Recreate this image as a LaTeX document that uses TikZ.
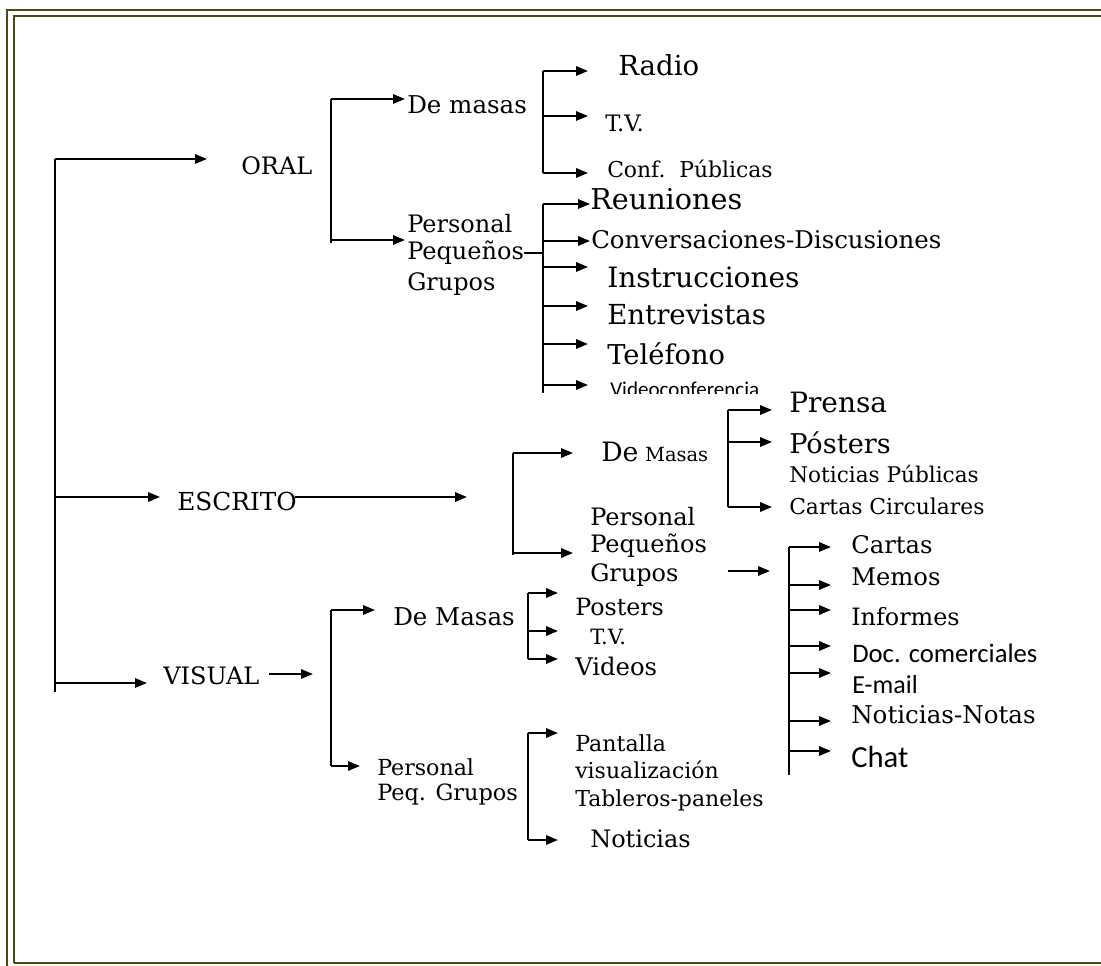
\documentclass[tikz,border=0pt]{standalone}
\usepackage{fontspec}
\setmainfont{DejaVu Serif}
\newfontfamily\calfont{Carlito}
\usetikzlibrary{arrows.meta}
\definecolor{frameolive}{RGB}{72,72,24}
\newcommand\fsz[2]{\fontsize{#1}{#2}\selectfont}
\tikzset{
  ln/.style={line width=1.6pt, black},
  arr/.style={ln, -{Triangle[length=9pt,width=7pt]}},
  txt/.style={anchor=west, inner sep=0pt, align=left},
  frameline/.style={line width=1.6pt, frameolive}
}
\begin{document}
\begin{tikzpicture}[x=0.75pt, y=-0.75pt]
\useasboundingbox (0,0) rectangle (1101,966);
% frame
\draw[frameline] (7,1000) -- (7,10) -- (1120,10);
\draw[frameline] (14,963) -- (14,16) -- (1120,16);
\draw[frameline] (14,963) -- (1120,963);

% ---------- main trunk ----------
\coordinate (trunkTop) at (55,159);
\coordinate (trunkBot) at (55,692);
\draw[ln] (trunkTop) -- (trunkBot);
\coordinate (tOral) at (207,159);
\coordinate (tEscrito) at (160,497);
\coordinate (tVisual) at (147,683);
\draw[arr] (trunkTop) -- (tOral);
\draw[arr] (trunkTop |- tEscrito) -- (tEscrito);
\draw[arr] (trunkTop |- tVisual) -- (tVisual);

\node[txt, font=\fsz{18}{22}] (oral) at (241,166) {ORAL};
\node[txt, font=\fsz{18.6}{22}] (escrito) at (177,501) {ESCRITO};
\node[txt, font=\fsz{18}{22}] (visual) at (163,676) {VISUAL};

% ---------- ORAL ----------
\coordinate (oTop) at (331,99);
\coordinate (oBot) at (331,243);
\draw[ln] (oTop) -- (oBot);
\coordinate (tDeMasasO) at (405,99);
\coordinate (tPersO) at (405,240);
\draw[arr] (oTop) -- (tDeMasasO);
\draw[arr] (oTop |- tPersO) -- (tPersO);
\node[txt, font=\fsz{18.4}{22}] (demasasO) at (407,105) {De masas};
\node[txt, font=\fsz{18}{22}] (persO1) at (407,224) {Personal};
\node[txt, font=\fsz{18}{22}] (persO2) at (407,253) {Pequeños};
\node[txt, font=\fsz{18}{22}] (persO3) at (407,284) {Grupos};

% De masas (oral) branch
\coordinate (dmTop) at (543,71);
\coordinate (dmBot) at (543,173);
\draw[ln] (dmTop) -- (dmBot);
\coordinate (tRadio) at (588,71);
\coordinate (tTVo) at (588,116);
\coordinate (tConf) at (588,173);
\draw[arr] (dmTop) -- (tRadio);
\draw[arr] (dmTop |- tTVo) -- (tTVo);
\draw[arr] (dmTop |- tConf) -- (tConf);
\node[txt, font=\fsz{20.7}{24}] (radio) at (618,65) {Radio};
\node[txt, font=\fsz{17}{20}] (tvO) at (605,123) {T.V.};
\node[txt, font=\fsz{16.4}{20}] (conf) at (607,169) {Conf.\ \ Públicas};

% Personal (oral) branch
\coordinate (poTop) at (543,204);
\coordinate (poBot) at (543,393);
\draw[ln] (poTop) -- (poBot);
\draw[ln] (persO2.east) -- (persO2.east -| poTop);
\coordinate (tReun) at (590,204);
\coordinate (tConv) at (590,241);
\coordinate (tInst) at (588,267);
\coordinate (tEntr) at (588,306);
\coordinate (tTel) at (588,344);
\coordinate (tVideoc) at (588,385);
\draw[arr] (poTop) -- (tReun);
\draw[arr] (poTop |- tConv) -- (tConv);
\draw[arr] (poTop |- tInst) -- (tInst);
\draw[arr] (poTop |- tEntr) -- (tEntr);
\draw[arr] (poTop |- tTel) -- (tTel);
\draw[arr] (poTop |- tVideoc) -- (tVideoc);
\node[txt, font=\fsz{21.5}{25}] (reun) at (590,199) {Reuniones};
\node[txt, font=\fsz{18.3}{22}] (conv) at (591,240) {Conversaciones-Discusiones};
\node[txt, font=\fsz{21}{25}] (inst) at (607,277) {Instrucciones};
\node[txt, font=\fsz{20.7}{25}] (entr) at (607,315) {Entrevistas};
\node[txt, font=\fsz{20.5}{25}] (tel) at (607,354) {Teléfono};
\begin{scope}
\clip (600,370) rectangle (800,394);
\node[txt, font={\calfont\fsz{15.8}{19}}] (videoc) at (610,389) {Videoconferencia};
\end{scope}

% ---------- ESCRITO ----------
\coordinate (tEscLine) at (467,497);
\draw[arr] (295,497) -- (tEscLine);
\coordinate (eTop) at (513,453);
\coordinate (eBot) at (513,555);
\draw[ln] (eTop) -- (eBot);
\coordinate (tDeMasasE) at (573,453);
\coordinate (tPersE) at (573,553);
\draw[arr] (eTop) -- (tDeMasasE);
\draw[arr] (eTop |- tPersE) -- (tPersE);
\node[txt] (demasasE) at (601,452) {{\fsz{20}{24}De}\hspace{5pt}{\fsz{14.6}{18}Masas}};
\node[txt, font=\fsz{18}{22}] (persE1) at (590,517) {Personal};
\node[txt, font=\fsz{18}{22}] (persE2) at (590,546) {Pequeños};
\node[txt, font=\fsz{18}{22}] (persE3) at (590,575) {Grupos};
\coordinate (gArrS) at (728,571);
\coordinate (tGArr) at (770,571);
\draw[arr] (gArrS) -- (tGArr);

% De Masas (escrito) branch
\coordinate (deTop) at (728,410);
\coordinate (deBot) at (728,507);
\draw[ln] (deTop) -- (deBot);
\coordinate (tPrensa) at (772,410);
\coordinate (tPost) at (772,442);
\coordinate (tCirc) at (772,507);
\draw[arr] (deTop) -- (tPrensa);
\draw[arr] (deTop |- tPost) -- (tPost);
\draw[arr] (deTop |- tCirc) -- (tCirc);
\node[txt, font=\fsz{21}{25}] (prensa) at (789,402) {Prensa};
\node[txt, font=\fsz{20.4}{24}] (posters) at (789,443) {Pósters};
\node[txt, font=\fsz{16.2}{20}] (notpub) at (789,474) {Noticias Públicas};
\node[txt, font=\fsz{16.4}{20}] (circ) at (789,506) {Cartas Circulares};

% Personal (escrito) branch
\coordinate (peTop) at (789,547);
\coordinate (peBot) at (789,775);
\draw[ln] (peTop) -- (peBot);
\coordinate (tCartas) at (831,547);
\coordinate (tMemos) at (831,585);
\coordinate (tInf) at (831,610);
\coordinate (tDoc) at (831,646);
\coordinate (tMail) at (831,673);
\coordinate (tNotN) at (831,721);
\coordinate (tChat) at (831,751);
\draw[arr] (peTop) -- (tCartas);
\draw[arr] (peTop |- tMemos) -- (tMemos);
\draw[arr] (peTop |- tInf) -- (tInf);
\draw[arr] (peTop |- tDoc) -- (tDoc);
\draw[arr] (peTop |- tMail) -- (tMail);
\draw[arr] (peTop |- tNotN) -- (tNotN);
\draw[arr] (peTop |- tChat) -- (tChat);
\node[txt, font=\fsz{18.2}{22}] (cartas) at (851,545) {Cartas};
\node[txt, font=\fsz{18.2}{22}] (memos) at (851,577) {Memos};
\node[txt, font=\fsz{17.9}{22}] (inf) at (851,617) {Informes};
\node[txt, font={\calfont\fsz{20}{24}}] (doc) at (852,653) {Doc. comerciales};
\node[txt, font={\calfont\fsz{19.5}{24}}] (mail) at (852,685) {E-mail};
\node[txt, font=\fsz{18.4}{22}] (notn) at (851,715) {Noticias-Notas};
\node[txt, font={\calfont\fsz{23}{28}}] (chat) at (851,757) {Chat};

% ---------- VISUAL ----------
\coordinate (tVisLine) at (313,674);
\draw[arr] (269,674) -- (tVisLine);
\coordinate (vTop) at (331,610);
\coordinate (vBot) at (331,766);
\draw[ln] (vTop) -- (vBot);
\coordinate (tDeMasasV) at (375,610);
\coordinate (tPersV) at (360,766);
\draw[arr] (vTop) -- (tDeMasasV);
\draw[arr] (vTop |- tPersV) -- (tPersV);
\node[txt, font=\fsz{18.4}{22}] (demasasV) at (393,617) {De Masas};
\node[txt, font=\fsz{16.6}{20}] (persV1) at (377,767) {Personal};
\node[txt, font=\fsz{16.8}{20}] (persV2) at (377,795) {Peq. Grupos};

% De Masas (visual) branch
\coordinate (dvTop) at (528,593);
\coordinate (dvBot) at (528,659);
\draw[ln] (dvTop) -- (dvBot);
\coordinate (tPostV) at (558,593);
\coordinate (tTVv) at (558,631);
\coordinate (tVid) at (558,659);
\draw[arr] (dvTop) -- (tPostV);
\draw[arr] (dvTop |- tTVv) -- (tTVv);
\draw[arr] (dvTop |- tVid) -- (tVid);
\node[txt, font=\fsz{17.8}{22}] (postV) at (575,607) {Posters};
\node[txt, font=\fsz{15.8}{20}] (tvV) at (590,637) {T.V.};
\node[txt, font=\fsz{18.2}{22}] (vid) at (575,666) {Videos};

% Personal (visual) branch
\coordinate (pvTop) at (528,733);
\coordinate (pvBot) at (528,840);
\draw[ln] (pvTop) -- (pvBot);
\coordinate (tPant) at (558,733);
\coordinate (tNotV) at (558,840);
\draw[arr] (pvTop) -- (tPant);
\draw[arr] (pvTop |- tNotV) -- (tNotV);
\node[txt, font=\fsz{16.6}{20}] (pant1) at (575,743) {Pantalla};
\node[txt, font=\fsz{16.5}{20}] (pant2) at (575,770) {visualización};
\node[txt, font=\fsz{16.5}{20}] (tabl) at (575,800) {Tableros-paneles};
\node[txt, font=\fsz{18}{22}] (notV) at (590,839) {Noticias};
\end{tikzpicture}
\end{document}
